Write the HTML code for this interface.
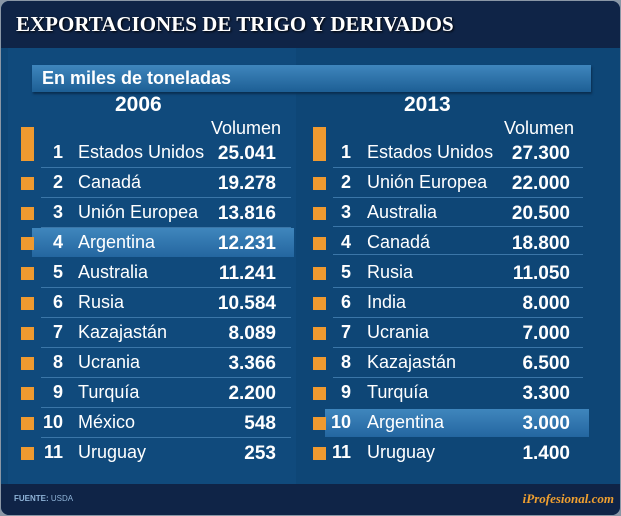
<!DOCTYPE html>
<html><head><meta charset="utf-8"><style>
*{margin:0;padding:0;box-sizing:border-box}
body{width:621px;height:516px;background:#8a97a6;position:relative;overflow:hidden;font-family:"Liberation Sans",sans-serif;color:#fff}
.frame{position:absolute;left:1px;top:1px;width:619px;height:514px;border-radius:8px;background:#0e4676;overflow:hidden}
.head{position:absolute;left:0;top:0;width:619px;height:47px;background:#0f2447}
.head h1{position:absolute;left:15px;top:11px;font:bold 21px "Liberation Serif",serif;color:#fff;text-shadow:1px 1px 2px #000}
.foot{position:absolute;left:0;top:483px;width:619px;height:31px;background:#0f2447}
.colL{position:absolute;left:7px;top:47px;width:288px;height:436px;background:#104a7c}
.colR{position:absolute;left:297px;top:47px;width:315px;height:436px;background:#0e4676}
.sub{position:absolute;left:31px;top:64px;width:559px;height:27px;background:linear-gradient(#3f86bd,#1d5f95);box-shadow:1px 2px 2px #0a2e50}
.sub span{position:absolute;left:10px;top:3px;font-weight:bold;font-size:18px}
.t{position:absolute;white-space:nowrap;font-size:18px;line-height:20px}
.b{font-weight:bold}
.sq{position:absolute;width:13px;height:13px;background:#ef9a30}
.ln{position:absolute;height:1px;background:#3b76a8}
.hl{position:absolute;background:linear-gradient(#3f86bd,#2466a0)}
.r{text-align:right}
.v{font-weight:bold;text-align:right;font-size:19px;line-height:20px;padding-top:2px}
</style></head><body><div class="frame">
<div class="head"><h1>EXPORTACIONES DE TRIGO Y DERIVADOS</h1></div>
<div class="colL"></div><div class="colR"></div>
<div class="hl" style="left:31px;top:227px;width:262px;height:29px"></div>
<div class="hl" style="left:324px;top:408px;width:264px;height:28px"></div>
<div class="sub"><span>En miles de toneladas</span></div>
<div class="t b" style="left:114px;top:94px;font-size:21px">2006</div>
<div class="t b" style="left:403px;top:94px;font-size:21px">2013</div>
<div class="t" style="left:210px;top:117px">Volumen</div>
<div class="t" style="left:503px;top:117px">Volumen</div>
<div class="sq" style="left:20px;top:126px;height:34px"></div>
<div class="sq" style="left:312px;top:126px;height:34px"></div>
<div class="t b r" style="left:30px;width:32px;top:141px">1</div><div class="t" style="left:77px;top:141px">Estados Unidos</div><div class="t v" style="left:180px;width:95px;top:141px">25.041</div>
<div class="t b r" style="left:30px;width:32px;top:171px">2</div><div class="t" style="left:77px;top:171px">Canadá</div><div class="t v" style="left:180px;width:95px;top:171px">19.278</div>
<div class="t b r" style="left:30px;width:32px;top:201px">3</div><div class="t" style="left:77px;top:201px">Unión Europea</div><div class="t v" style="left:180px;width:95px;top:201px">13.816</div>
<div class="t b r" style="left:30px;width:32px;top:231px">4</div><div class="t" style="left:77px;top:231px">Argentina</div><div class="t v" style="left:180px;width:95px;top:231px">12.231</div>
<div class="t b r" style="left:30px;width:32px;top:261px">5</div><div class="t" style="left:77px;top:261px">Australia</div><div class="t v" style="left:180px;width:95px;top:261px">11.241</div>
<div class="t b r" style="left:30px;width:32px;top:291px">6</div><div class="t" style="left:77px;top:291px">Rusia</div><div class="t v" style="left:180px;width:95px;top:291px">10.584</div>
<div class="t b r" style="left:30px;width:32px;top:321px">7</div><div class="t" style="left:77px;top:321px">Kazajastán</div><div class="t v" style="left:180px;width:95px;top:321px">8.089</div>
<div class="t b r" style="left:30px;width:32px;top:351px">8</div><div class="t" style="left:77px;top:351px">Ucrania</div><div class="t v" style="left:180px;width:95px;top:351px">3.366</div>
<div class="t b r" style="left:30px;width:32px;top:381px">9</div><div class="t" style="left:77px;top:381px">Turquía</div><div class="t v" style="left:180px;width:95px;top:381px">2.200</div>
<div class="t b r" style="left:30px;width:32px;top:411px">10</div><div class="t" style="left:77px;top:411px">México</div><div class="t v" style="left:180px;width:95px;top:411px">548</div>
<div class="t b r" style="left:30px;width:32px;top:441px">11</div><div class="t" style="left:77px;top:441px">Uruguay</div><div class="t v" style="left:180px;width:95px;top:441px">253</div>
<div class="t b r" style="left:318px;width:32px;top:141px">1</div><div class="t" style="left:366px;top:141px">Estados Unidos</div><div class="t v" style="left:470px;width:99px;top:141px">27.300</div>
<div class="t b r" style="left:318px;width:32px;top:171px">2</div><div class="t" style="left:366px;top:171px">Unión Europea</div><div class="t v" style="left:470px;width:99px;top:171px">22.000</div>
<div class="t b r" style="left:318px;width:32px;top:201px">3</div><div class="t" style="left:366px;top:201px">Australia</div><div class="t v" style="left:470px;width:99px;top:201px">20.500</div>
<div class="t b r" style="left:318px;width:32px;top:231px">4</div><div class="t" style="left:366px;top:231px">Canadá</div><div class="t v" style="left:470px;width:99px;top:231px">18.800</div>
<div class="t b r" style="left:318px;width:32px;top:261px">5</div><div class="t" style="left:366px;top:261px">Rusia</div><div class="t v" style="left:470px;width:99px;top:261px">11.050</div>
<div class="t b r" style="left:318px;width:32px;top:291px">6</div><div class="t" style="left:366px;top:291px">India</div><div class="t v" style="left:470px;width:99px;top:291px">8.000</div>
<div class="t b r" style="left:318px;width:32px;top:321px">7</div><div class="t" style="left:366px;top:321px">Ucrania</div><div class="t v" style="left:470px;width:99px;top:321px">7.000</div>
<div class="t b r" style="left:318px;width:32px;top:351px">8</div><div class="t" style="left:366px;top:351px">Kazajastán</div><div class="t v" style="left:470px;width:99px;top:351px">6.500</div>
<div class="t b r" style="left:318px;width:32px;top:381px">9</div><div class="t" style="left:366px;top:381px">Turquía</div><div class="t v" style="left:470px;width:99px;top:381px">3.300</div>
<div class="t b r" style="left:318px;width:32px;top:411px">10</div><div class="t" style="left:366px;top:411px">Argentina</div><div class="t v" style="left:470px;width:99px;top:411px">3.000</div>
<div class="t b r" style="left:318px;width:32px;top:441px">11</div><div class="t" style="left:366px;top:441px">Uruguay</div><div class="t v" style="left:470px;width:99px;top:441px">1.400</div>
<div class="sq" style="left:20px;top:176px"></div><div class="sq" style="left:20px;top:206px"></div><div class="sq" style="left:20px;top:236px"></div><div class="sq" style="left:20px;top:266px"></div><div class="sq" style="left:20px;top:296px"></div><div class="sq" style="left:20px;top:326px"></div><div class="sq" style="left:20px;top:356px"></div><div class="sq" style="left:20px;top:386px"></div><div class="sq" style="left:20px;top:416px"></div><div class="sq" style="left:20px;top:446px"></div>
<div class="sq" style="left:312px;top:176px"></div><div class="sq" style="left:312px;top:206px"></div><div class="sq" style="left:312px;top:236px"></div><div class="sq" style="left:312px;top:266px"></div><div class="sq" style="left:312px;top:296px"></div><div class="sq" style="left:312px;top:326px"></div><div class="sq" style="left:312px;top:356px"></div><div class="sq" style="left:312px;top:386px"></div><div class="sq" style="left:312px;top:416px"></div><div class="sq" style="left:312px;top:446px"></div>
<div class="ln" style="left:40px;width:250px;top:166px"></div><div class="ln" style="left:40px;width:250px;top:196px"></div><div class="ln" style="left:40px;width:250px;top:226px"></div><div class="ln" style="left:40px;width:250px;top:286px"></div><div class="ln" style="left:40px;width:250px;top:316px"></div><div class="ln" style="left:40px;width:250px;top:346px"></div><div class="ln" style="left:40px;width:250px;top:376px"></div><div class="ln" style="left:40px;width:250px;top:406px"></div><div class="ln" style="left:40px;width:250px;top:436px"></div>
<div class="ln" style="left:332px;width:250px;top:166px"></div><div class="ln" style="left:332px;width:250px;top:196px"></div><div class="ln" style="left:332px;width:250px;top:225px"></div><div class="ln" style="left:332px;width:250px;top:253px"></div><div class="ln" style="left:332px;width:250px;top:286px"></div><div class="ln" style="left:332px;width:250px;top:316px"></div><div class="ln" style="left:332px;width:250px;top:346px"></div><div class="ln" style="left:332px;width:250px;top:376px"></div>
<div class="foot">
<div class="t" style="left:13px;top:10px;font-size:8px;line-height:10px;color:#8fb4d8"><b>FUENTE:</b> USDA</div>
<div class="t" style="right:6px;top:7px;font:italic bold 13px 'Liberation Serif',serif;color:#f0a030">iProfesional.com</div>
</div>
</div></body></html>
